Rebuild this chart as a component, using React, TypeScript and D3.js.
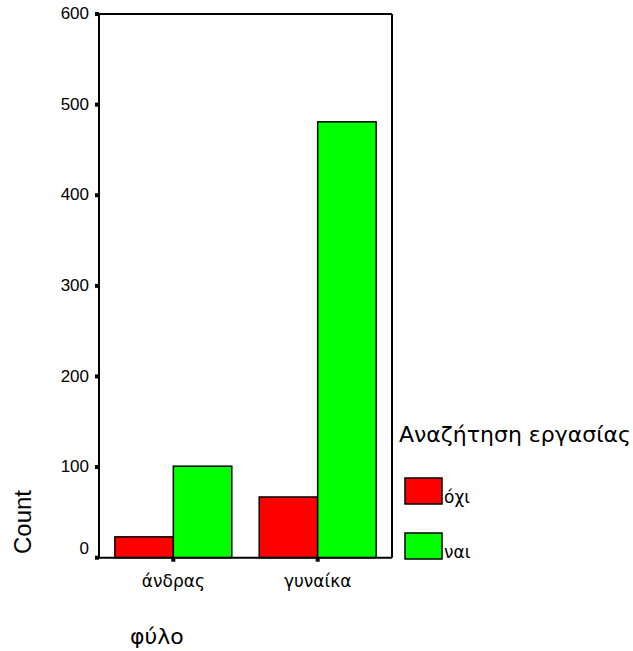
import React from "react";
import * as d3 from "d3";

const categories = ["άνδρας", "γυναίκα"];
const seriesNames = ["όχι", "ναι"];
const seriesColors = ["#ff0000", "#00ff00"];
const valuesNo = [23, 67];
const valuesYes = [101, 481];
const yTicks = [0, 100, 200, 300, 400, 500, 600];
const legendTitle = "Αναζήτηση εργασίας";
const xTitle = "φύλο";
const yTitle = "Count";

export default function App() {
  const W = 633, H = 651;
  const left = 99, right = 392, top = 14, bottom = 557.7;
  const y = d3.scaleLinear().domain([0, 600]).range([bottom, top]);
  const x = d3.scaleBand().domain(categories).range([left, right]).paddingInner(0.19).paddingOuter(0.11);
  const xs = d3.scaleBand().domain(seriesNames).range([0, x.bandwidth()]);
  const series = [valuesNo, valuesYes];
  const greek = "'DejaVu Sans', sans-serif";
  const latin = "'Liberation Sans', Arial, sans-serif";
  return (
    <svg width={W} height={H} style={{ position: "absolute", left: 0, top: 0 }}>
      <rect x={0} y={0} width={W} height={H} fill="#fff" />
      {categories.map((c, i) =>
        series.map((s, j) => (
          <rect key={c + j} x={(x(c) as number) + (xs(seriesNames[j]) as number)} y={y(s[i])}
            width={xs.bandwidth()} height={bottom - y(s[i])}
            fill={seriesColors[j]} stroke="#000" strokeWidth={1.5} />
        ))
      )}
      <line x1={left} x2={left} y1={top} y2={bottom} stroke="#000" strokeWidth={2} />
      <line x1={left} x2={right} y1={top} y2={top} stroke="#000" strokeWidth={2} />
      <line x1={right} x2={right} y1={top} y2={bottom} stroke="#000" strokeWidth={2} />
      <line x1={95} x2={right} y1={bottom} y2={bottom} stroke="#000" strokeWidth={2} />
      {yTicks.map(t => (
        <g key={t}>
          <rect x={95} y={y(t) - 2} width={4} height={4} fill="#000" />
          <text x={89} y={y(t) - (t === 0 ? 10 : 1)} dy="0.36em" textAnchor="end" fontFamily={latin} fontSize={17} fill="#000">{t}</text>
        </g>
      ))}
      {categories.map(c => {
        const cx = (x(c) as number) + x.bandwidth() / 2;
        return (
          <g key={c}>
            <rect x={cx - 2} y={bottom} width={4} height={4} fill="#000" />
            <text x={cx} y={587} textAnchor="middle" fontFamily={greek} fontSize={17} fill="#000">{c}</text>
          </g>
        );
      })}
      <text transform="translate(31,522) rotate(-90)" textAnchor="middle" fontFamily={latin} fontSize={24} fill="#000">{yTitle}</text>
      <text x={130} y={644} fontFamily={greek} fontSize={22} fill="#000">{xTitle}</text>
      <text x={399} y={442} fontFamily={greek} fontSize={22} fill="#000">{legendTitle}</text>
      {seriesNames.map((n, j) => (
        <g key={n}>
          <rect x={405} y={478 + j * 55} width={37} height={26} fill={seriesColors[j]} stroke="#000" strokeWidth={1.5} />
          <text x={444} y={503 + j * 55} fontFamily={greek} fontSize={17} fill="#000">{n}</text>
        </g>
      ))}
    </svg>
  );
}
